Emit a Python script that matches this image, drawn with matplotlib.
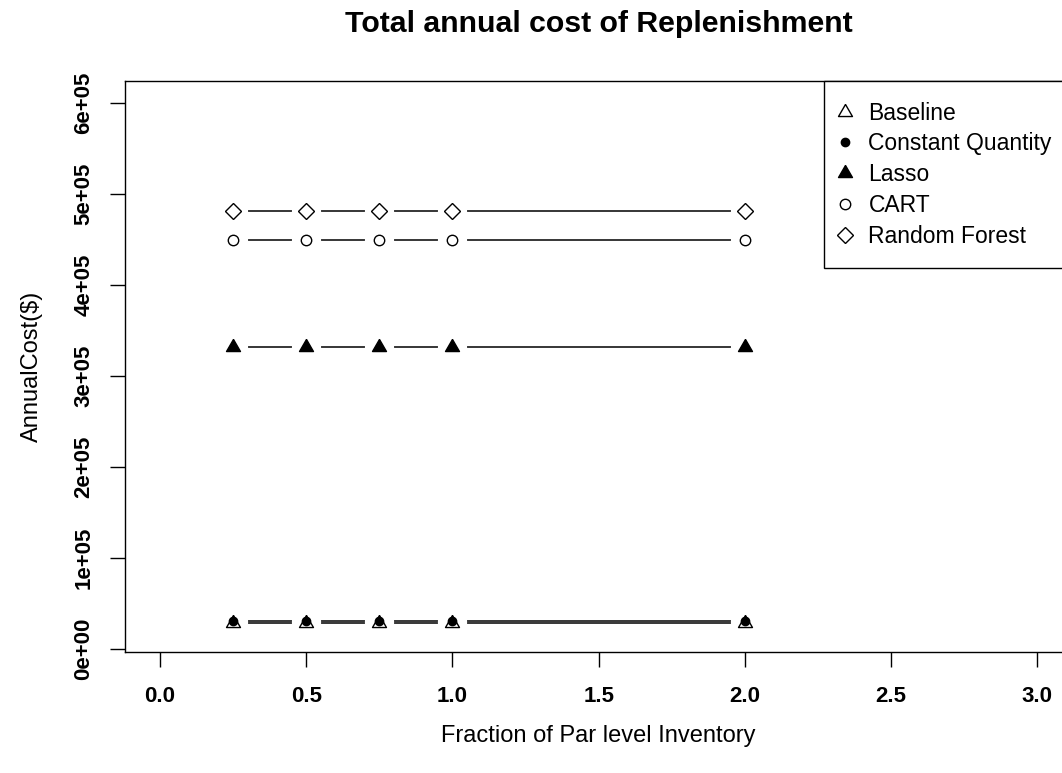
import matplotlib.pyplot as plt
from matplotlib.lines import Line2D

plt.rcParams['font.family'] = ['Liberation Sans', 'DejaVu Sans']

# Fraction of par level inventory tested
fractions = [0.25, 0.5, 0.75, 1.0, 2.0]

# Annual replenishment cost ($) per method
baseline = [29000, 29000, 29000, 29000, 29000]
constant_qty = [31000, 31000, 31000, 31000, 31000]
lasso = [332000, 332000, 332000, 332000, 332000]
cart = [449500, 449500, 449500, 449500, 449500]
random_forest = [481000, 481000, 481000, 481000, 481000]

y_ticks = [0, 100000, 200000, 300000, 400000, 500000, 600000]
y_tick_labels = ['0e+00', '1e+05', '2e+05', '3e+05', '4e+05', '5e+05', '6e+05']
x_ticks = [0.0, 0.5, 1.0, 1.5, 2.0, 2.5, 3.0]
x_tick_labels = ['0.0', '0.5', '1.0', '1.5', '2.0', '2.5', '3.0']

# equilateral triangle centred on its centroid (like R's pch 2 / 17)
tri = [(0, 1.555), (1.347, -0.778), (-1.347, -0.778), (0, 1.555)]

# (label, values, marker, markersize, filled)
series = [
    ('Baseline', baseline, tri, 11.6, False),
    ('Constant Quantity', constant_qty, 'o', 6, True),
    ('Lasso', lasso, tri, 11.6, True),
    ('CART', cart, 'o', 7.5, False),
    ('Random Forest', random_forest, 'D', 8, False),
]

fig = plt.figure(figsize=(10.62, 7.73), dpi=100)
# plot region runs a little past the right edge of the image
ax = fig.add_axes([124.9 / 1062, (773 - 651.7) / 773, 947.5 / 1062, 570.7 / 773])

handles = []
for label, vals, marker, ms, filled in series:
    # connecting line, broken around each point like R's type="b"
    ax.plot(fractions, vals, color='black', linewidth=1.1, zorder=1)
    ax.plot(fractions, vals, linestyle='none', marker='o', markersize=21,
            markerfacecolor='white', markeredgecolor='none', zorder=2)
    face = 'black' if filled else 'white'
    ax.plot(fractions, vals, linestyle='none', marker=marker, markersize=ms,
            markerfacecolor=face, markeredgecolor='black', markeredgewidth=1.0,
            zorder=3)
    handles.append(Line2D([], [], linestyle='none', marker=marker, markersize=ms,
                          markerfacecolor=face, markeredgecolor='black',
                          markeredgewidth=1.0, label=label))

ax.set_xlim(-0.12, 3.12)
ax.set_ylim(-3000, 624000)

ax.set_xticks(x_ticks)
ax.set_xticklabels(x_tick_labels, fontsize=16, fontweight='bold')
ax.set_yticks(y_ticks)
ax.set_yticklabels(y_tick_labels, fontsize=16, fontweight='bold',
                   rotation=90, va='center')
ax.tick_params(axis='both', direction='out', length=10.8, width=1.0, color='black')
ax.tick_params(axis='x', pad=14)
ax.tick_params(axis='y', pad=11)

for spine in ax.spines.values():
    spine.set_linewidth(1.0)
    spine.set_color('black')

ax.set_xlabel('Fraction of Par level Inventory', fontsize=17)
ax.xaxis.set_label_coords(0.5, -0.1285)
ax.set_ylabel('AnnualCost($)', fontsize=17)
ax.yaxis.set_label_coords(-0.087, 0.5)

ax.set_title('Total annual cost of Replenishment', fontsize=21.8,
             fontweight='bold', pad=35)

leg = ax.legend(handles=handles, loc='upper right', borderaxespad=0,
                fontsize=16.5, frameon=True, fancybox=False, framealpha=1,
                edgecolor='black', borderpad=0.9, handlelength=0.05,
                handletextpad=0.98, labelspacing=0.34)
leg.get_frame().set_linewidth(1.0)

fig.savefig('out.png', dpi=100)
